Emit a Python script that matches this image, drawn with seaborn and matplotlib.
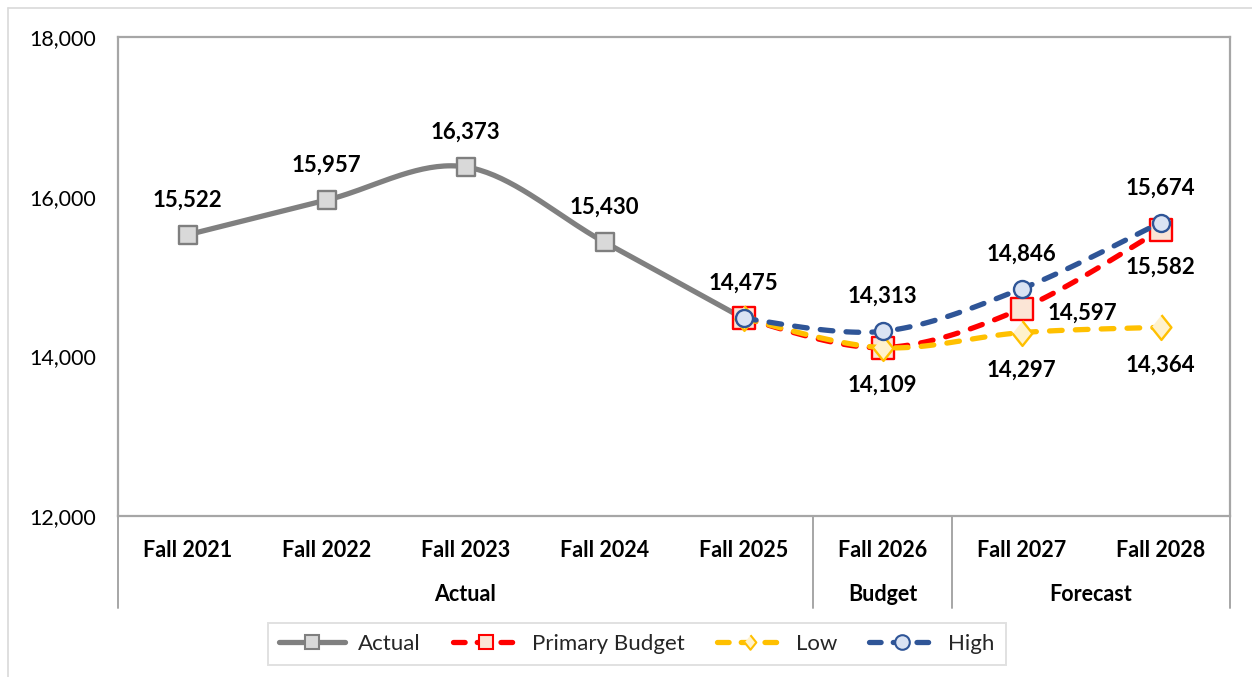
import numpy as np
import pandas as pd
import matplotlib
matplotlib.use("Agg")
import matplotlib.pyplot as plt
from matplotlib.lines import Line2D
from matplotlib.ticker import FuncFormatter
import seaborn as sns

# data
terms = ["Fall 2021", "Fall 2022", "Fall 2023", "Fall 2024",
         "Fall 2025", "Fall 2026", "Fall 2027", "Fall 2028"]
groups = ["Actual", "Budget", "Forecast"]
group_first = [0, 5, 6]
group_last = [4, 5, 7]

actual = [15522, 15957, 16373, 15430, 14475]
primary = [14475, 14109, 14597, 15582]
low = [14475, 14109, 14297, 14364]
high = [14475, 14313, 14846, 15674]

# where each value label goes (None = no label)
actual_lbl = ["above", "above", "above", "above", "above"]
primary_lbl = [None, "below", "right", "below"]
low_lbl = [None, None, "below", "below"]
high_lbl = [None, "above", "above", "above"]


def smooth(xs, ys, n=40):
    # excel-like smoothed line (bezier through the points)
    pts = np.column_stack([np.asarray(xs, float), np.asarray(ys, float)])
    ext = np.vstack([pts[0], pts, pts[-1]])
    t = np.linspace(0, 1, n)[:, None]
    out = []
    for i in range(len(pts) - 1):
        p0, p1, p2, p3 = ext[i], ext[i + 1], ext[i + 2], ext[i + 3]
        c1 = p1 + (p2 - p0) / 6
        c2 = p2 - (p3 - p1) / 6
        seg = (1 - t) ** 3 * p1 + 3 * (1 - t) ** 2 * t * c1 + 3 * (1 - t) * t ** 2 * c2 + t ** 3 * p2
        out.append(seg if i == 0 else seg[1:])
    return np.vstack(out)


sns.set_theme(style="white")
plt.rcParams["font.family"] = ["Lato", "DejaVu Sans"]

fig = plt.figure(figsize=(12.52, 6.77), dpi=100)
ax = fig.add_axes([118 / 1252, 1 - 516 / 677, 1112 / 1252, 479 / 677])

diamond = [(0, 1), (0.8, 0), (0, -1), (-0.8, 0)]
dash = (0, (2.4, 2.5))
leg_dash = (0, (2.2, 2.3))

series = [
    # name, x start, values, line colour, style, marker, size, fill, edge, labels
    ("Actual", 0, actual, "#808080", "-", "s", 180, "#D9D9D9", "#7F7F7F", actual_lbl),
    ("Primary Budget", 4, primary, "#FF0000", dash, "s", 240, "#FBE5D6", "#FF0000", primary_lbl),
    ("Low", 4, low, "#FFC000", dash, diamond, 320, "#FFF2CC", "#FFC000", low_lbl),
    ("High", 4, high, "#2F5597", dash, "o", 150, "#DAE3F3", "#2F5597", high_lbl),
]

handles = []
for k, (name, x0, vals, col, ls, mk, sz, fill, edge, lbls) in enumerate(series):
    xs = list(range(x0, x0 + len(vals)))
    curve = smooth(xs, vals)
    df = pd.DataFrame({"x": curve[:, 0], "y": curve[:, 1]})
    sns.lineplot(data=df, x="x", y="y", sort=False, estimator=None, ax=ax,
                 color=col, linewidth=3.8, linestyle=ls, dash_capstyle="round",
                 solid_capstyle="round", zorder=2 + k * 2)
    sns.scatterplot(x=xs, y=vals, marker=mk, s=sz, color=fill, edgecolor=edge,
                    linewidth=1.7, ax=ax, zorder=3 + k * 2)
    for x, v, pos in zip(xs, vals, lbls):
        if pos is None:
            continue
        off = {"above": (0, 25), "below": (0, -27), "right": (44, -3)}[pos]
        ax.annotate(f"{v:,}", (x, v), xytext=off, textcoords="offset points",
                    ha="center", va="center", fontsize=16, fontweight="bold",
                    color="black", zorder=20)
    handles.append(Line2D([], [], color=col, linewidth=3.8,
                          linestyle="-" if ls == "-" else leg_dash,
                          dash_capstyle="round", solid_capstyle="round",
                          marker=mk, markersize=10.5, markerfacecolor=fill,
                          markeredgecolor=edge, markeredgewidth=1.5, label=name))

ax.set_xlim(-0.5, 7.5)
ax.set_ylim(12000, 18000)
ax.set_yticks([12000, 14000, 16000, 18000])
ax.yaxis.set_major_formatter(FuncFormatter(lambda v, p: f"{int(v):,}"))
ax.set_xticks(range(len(terms)))
ax.set_xticklabels(terms, fontweight="bold")
ax.tick_params(axis="x", length=0, pad=17, labelsize=15.5, colors="black")
ax.tick_params(axis="y", length=0, pad=16, labelsize=15.5, colors="black")
ax.set_xlabel("")
ax.set_ylabel("")
for sp in ax.spines.values():
    sp.set_color("#A6A6A6")
    sp.set_linewidth(1.6)

# group labels and separators under the axis
tr = ax.get_xaxis_transform()
for g, a, b in zip(groups, group_first, group_last):
    ax.text((a + b) / 2, -0.163, g, transform=tr, ha="center", va="center",
            fontsize=15.5, fontweight="bold", color="black")
for xb in [-0.5, 4.5, 5.5, 7.5]:
    ax.plot([xb, xb], [0, -0.192], transform=tr, color="#A6A6A6",
            linewidth=1.4, clip_on=False)

leg = fig.legend(handles=handles, loc="center", bbox_to_anchor=(637 / 1252, 1 - 644 / 677),
                 ncol=4, fontsize=16, frameon=True, fancybox=False,
                 handlelength=2.95, handletextpad=0.6, columnspacing=1.45,
                 borderpad=0.5, borderaxespad=0)
leg.get_frame().set_edgecolor("#D9D9D9")
leg.get_frame().set_linewidth(1.4)

# outer chart border (only top and left are in view)
fig.add_artist(Line2D([8 / 1252, 1], [1 - 8 / 677, 1 - 8 / 677], color="#D9D9D9", linewidth=1.2))
fig.add_artist(Line2D([8 / 1252, 8 / 1252], [0, 1 - 8 / 677], color="#D9D9D9", linewidth=1.2))

fig.savefig("out.png", dpi=100)
